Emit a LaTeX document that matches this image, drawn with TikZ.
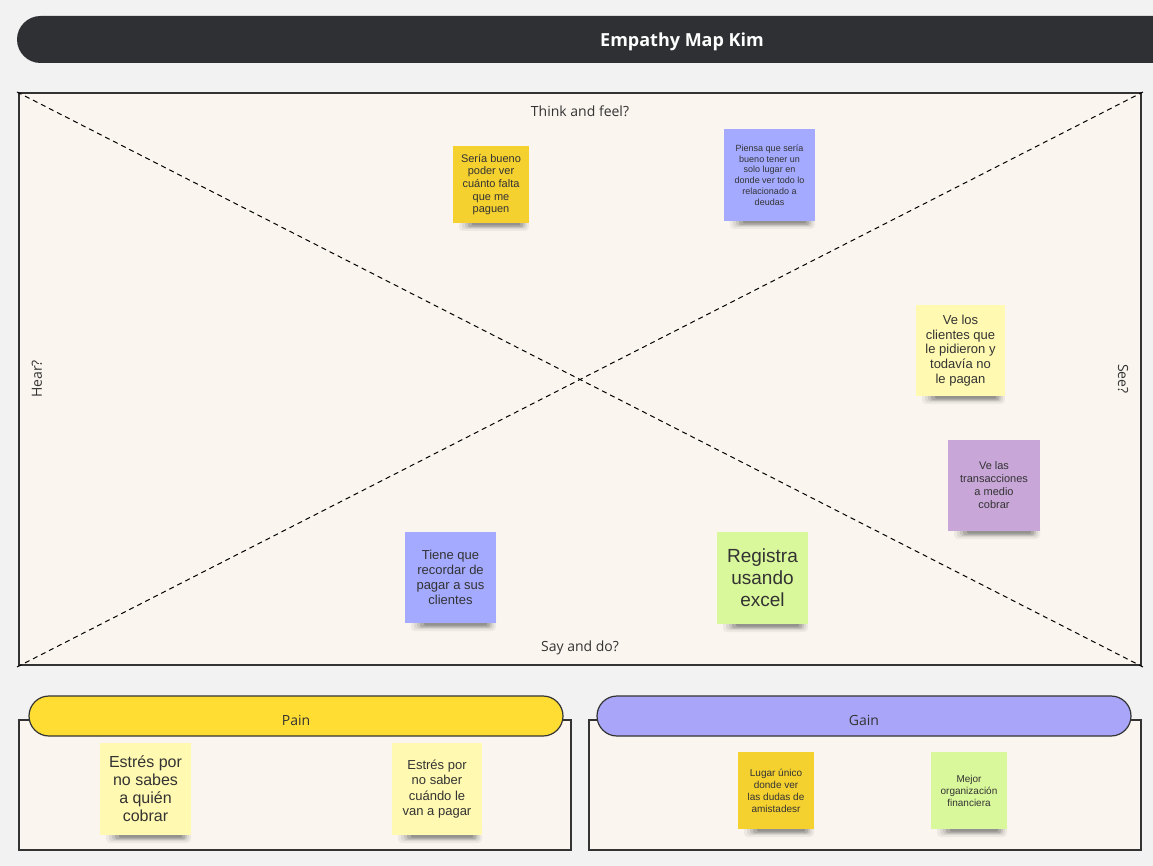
\documentclass[tikz,border=0pt]{standalone}
\usepackage{fontspec}
\setmainfont{Open Sans}
\newfontfamily\notefont{Liberation Sans}
\definecolor{pagebg}{HTML}{F2F2F2}
\definecolor{boxbg}{HTML}{FAF6EF}
\definecolor{titlebg}{HTML}{2F3033}
\definecolor{linec}{HTML}{333333}
\definecolor{txt}{HTML}{333333}
\definecolor{nyellow}{HTML}{F5D130}
\definecolor{nblue}{HTML}{A4AAFF}
\definecolor{nlight}{HTML}{FFF9B1}
\definecolor{npurple}{HTML}{C8A6D8}
\definecolor{ngreen}{HTML}{D9F79B}
\definecolor{pillyellow}{HTML}{FFDD33}
\definecolor{pillblue}{HTML}{A9A6FA}
\newcommand\sticky[9]{%
  \fill[black,opacity=0.05,rounded corners=4pt] (#2+6,#3+#5-8) rectangle (#2+#4,#3+#5+8);
  \fill[black,opacity=0.07,rounded corners=3pt] (#2+9,#3+#5-6) rectangle (#2+#4-2,#3+#5+6);
  \fill[black,opacity=0.09,rounded corners=3pt] (#2+12,#3+#5-4) rectangle (#2+#4-4,#3+#5+5);
  \fill[black,opacity=0.12,rounded corners=2pt] (#2+15,#3+#5-2) rectangle (#2+#4-6,#3+#5+4);
  \fill[black,opacity=0.15,rounded corners=1pt] (#2+19,#3+#5-1) rectangle (#2+#4-9,#3+#5+2.5);
  \node[note, fill=#6, minimum width=#4, minimum height=#5,
        font=\notefont\fontsize{#7}{#8}\selectfont] (#1) at (#2+#4/2,#3+#5/2) {#9};%
}
\tikzset{
  note/.style={inner sep=0pt, align=center, text=txt},
  lbl/.style={font=\fontsize{14}{16}\selectfont, text=txt},
  frame/.style={draw=linec, line width=1.3pt, fill=boxbg},
  pill/.style={draw=linec, line width=1.2pt, rounded corners=20pt},
  diag/.style={line width=1pt, dash pattern=on 5pt off 4pt, draw=black}
}
\begin{document}
\begin{tikzpicture}[x=1pt,y=-1pt]
\useasboundingbox (0,0) rectangle (1153,866);
\fill[pagebg] (0,0) rectangle (1153,866);
% title bar
\begin{scope}
\clip (0,0) rectangle (1153,866);
\fill[titlebg, rounded corners=23.5pt] (17,16) rectangle (1200,63);
\end{scope}
\node[text=white, font=\bfseries\fontsize{18}{20}\selectfont] (title) at (682,42) {Empathy Map Kim};
% main box
\draw[frame] (19,93) rectangle (1141,665);
\coordinate (tl) at (17,92);
\coordinate (br) at (1143,667);
\coordinate (bl) at (17,667);
\coordinate (tr) at (1143,92);
\draw[diag] (tl) -- (br);
\draw[diag] (bl) -- (tr);
\node[lbl] (think) at (580,111) {Think and feel?};
\node[lbl] (say) at (580,648) {Say and do?};
\node[lbl, rotate=90] (hear) at (37,379) {Hear?};
\node[lbl, rotate=-90] (see) at (1123,379) {See?};
% pain / gain
\draw[draw=linec, line width=1.1pt, fill=boxbg] (19,720) rectangle (571,850);
\draw[draw=linec, line width=1.1pt, fill=boxbg] (589,720) rectangle (1141,850);
\draw[pill, fill=pillyellow] (29,696) rectangle (563,736);
\draw[pill, fill=pillblue] (597,696) rectangle (1131,736);
\node[lbl] (pain) at (296,720) {Pain};
\node[lbl] (gain) at (864,720) {Gain};
% stickies
\sticky{s1}{453}{146}{76}{77}{nyellow}{11}{12.6}{Sería bueno\\poder ver\\cuánto falta\\que me\\paguen}
\sticky{s2}{724}{129}{91}{92}{nblue}{9}{10.7}{Piensa que sería\\bueno tener un\\solo lugar en\\donde ver todo lo\\relacionado a\\deudas}
\sticky{s3}{916}{305}{89}{91}{nlight}{13}{14.7}{Ve los\\clientes que\\le pidieron y\\todavía no\\le pagan}
\sticky{s4}{948}{440}{92}{91}{npurple}{11}{13}{Ve las\\transacciones\\a medio\\cobrar}
\sticky{s5}{405}{532}{91}{91}{nblue}{13}{15}{Tiene que\\recordar de\\pagar a sus\\clientes}
\sticky{s6}{717}{532}{91}{92}{ngreen}{19}{22}{Registra\\usando\\excel}
\sticky{s7}{100}{743}{91}{92}{nlight}{16}{18}{Estrés por\\no sabes\\a quién\\cobrar}
\sticky{s8}{392}{743}{90}{92}{nlight}{13}{15.3}{Estrés por\\no saber\\cuándo le\\van a pagar}
\sticky{s9}{738}{752}{76}{77}{nyellow}{10}{12}{Lugar único\\donde ver\\las dudas de\\amistadesr}
\sticky{s10}{931}{752}{76}{77}{ngreen}{10}{12}{Mejor\\organización\\financiera}
\end{tikzpicture}
\end{document}
